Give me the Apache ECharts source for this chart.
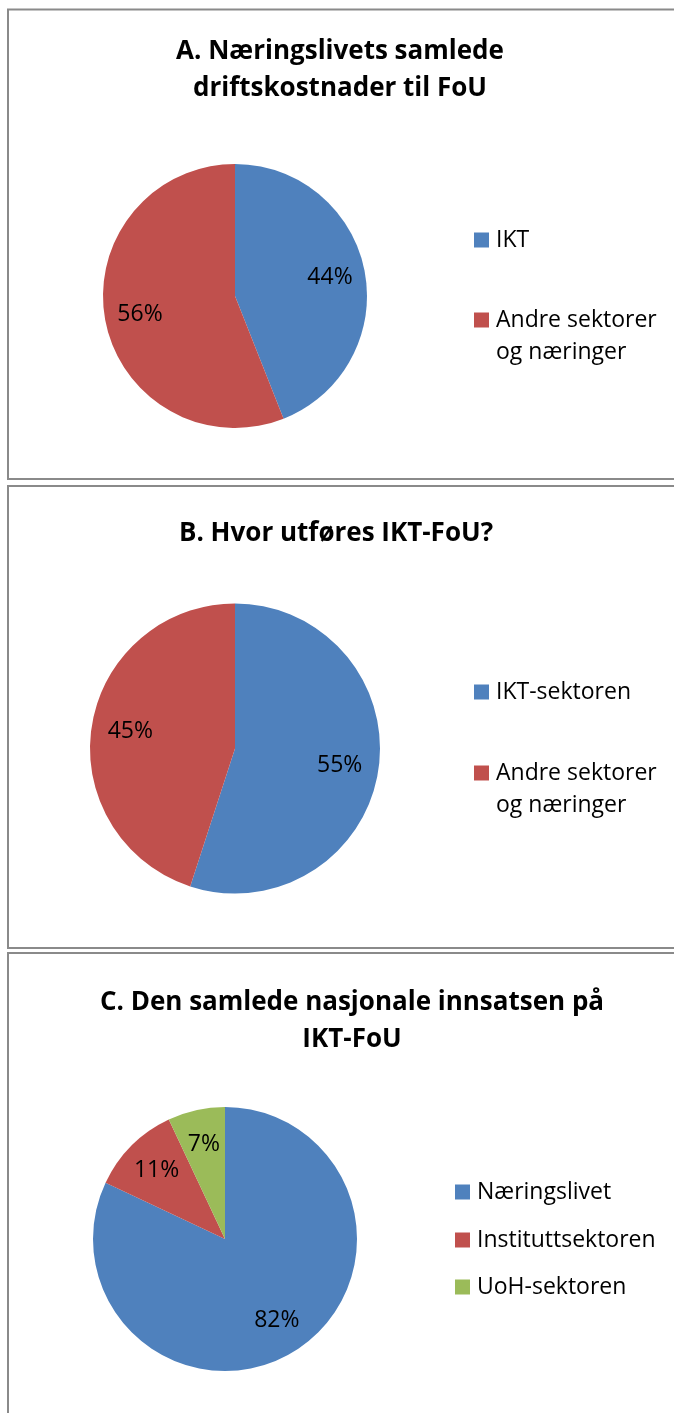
<!DOCTYPE html>
<html>
<head>
<meta charset="utf-8">
<script src="https://cdn.jsdelivr.net/npm/echarts@6/dist/echarts.min.js"></script>
<style>
  html, body { margin: 0; padding: 0; background: #ffffff; }
  #chart { width: 674px; height: 1413px; }
</style>
</head>
<body>
<div id="chart"></div>
<script>
// A. Næringslivets samlede driftskostnader til FoU
const namesA = ['IKT', 'Andre sektorer og næringer']
const valuesA = [44, 56]
// B. Hvor utføres IKT-FoU?
const namesB = ['IKT-sektoren', 'Andre sektorer og næringer']
const valuesB = [55, 45]
// C. Den samlede nasjonale innsatsen på IKT-FoU
const namesC = ['Næringslivet', 'Instituttsektoren', 'UoH-sektoren']
const valuesC = [82, 11, 7]

const titleA = 'A. Næringslivets samlede\ndriftskostnader til FoU'
const titleB = 'B. Hvor utføres IKT-FoU?'
const titleC = 'C. Den samlede nasjonale innsatsen på\nIKT-FoU'

const colors = ['#4F81BD', '#C0504D', '#9BBB59']
const fontFamily = '"Open Sans", sans-serif'
const borderColor = '#8a8a8a'

const chart = echarts.init(document.getElementById('chart'), null, { renderer: 'canvas' })

// en synlig kake + en gjennomsiktig ring som bare bærer prosent-etikettene
function pieSeries(names, values, center, radius) {
  const data = names.map((name, i) => ({
    name: name,
    value: values[i],
    itemStyle: { color: colors[i] }
  }))
  return [{
    type: 'pie',
    center: center,
    radius: radius,
    startAngle: 90,
    clockwise: true,
    silent: true,
    data: data,
    label: { show: false },
    labelLine: { show: false },
    itemStyle: { borderWidth: 0 }
  }, {
    type: 'pie',
    center: center,
    radius: [radius * 0.42, radius],
    startAngle: 90,
    clockwise: true,
    silent: true,
    data: data.map(d => ({ name: d.name, value: d.value })),
    itemStyle: { color: 'rgba(0,0,0,0)', borderWidth: 0 },
    labelLine: { show: false },
    label: {
      show: true,
      position: 'inside',
      formatter: p => p.value + '%',
      color: '#000000',
      fontFamily: fontFamily,
      fontSize: 23
    }
  }]
}

// én legend per oppføring, slik at plasseringen blir lik Excel-oppsettet
function legendItem(name, left, iconCenterY) {
  const twoLines = name.indexOf(' og ') > 0
  return {
    left: left,
    top: twoLines ? iconCenterY - 48 : iconCenterY - 16,
    padding: 0,
    itemWidth: 15,
    itemHeight: 15,
    icon: 'rect',
    selectedMode: false,
    data: [{ name: name, itemStyle: { borderWidth: 0 } }],
    formatter: n => twoLines ? '{t|' + n.replace(' og ', '}\n{t|og ') + '}' : n,
    textStyle: {
      color: '#000000',
      fontFamily: fontFamily,
      fontSize: 23,
      lineHeight: 32,
      padding: twoLines ? [32, 0, 0, 2] : [0, 0, 0, 2],
      rich: {
        t: { color: '#000000', fontFamily: fontFamily, fontSize: 23, lineHeight: 32 }
      }
    }
  }
}

function panel(y, h) {
  return {
    type: 'rect',
    silent: true,
    shape: { x: 8, y: y, width: 720, height: h },
    style: { fill: 'none', stroke: borderColor, lineWidth: 2 }
  }
}

function title(text, x, y) {
  return {
    type: 'text',
    silent: true,
    x: x,
    y: y,
    style: {
      text: text,
      align: 'center',
      verticalAlign: 'middle',
      fill: '#000000',
      fontFamily: fontFamily,
      fontWeight: 'bold',
      fontSize: 26,
      lineHeight: 37
    }
  }
}

chart.setOption({
  animation: false,
  graphic: [
    panel(9.5, 469.5),
    panel(486, 462),
    panel(953, 520),
    title(titleA, 340, 70.5),
    title(titleB, 336, 534),
    title(titleC, 352, 1021)
  ],
  legend: [
    legendItem(namesA[0], 474, 240),
    legendItem(namesA[1], 474, 320),
    legendItem(namesB[0], 474, 692),
    legendItem(namesB[1], 474, 773),
    legendItem(namesC[0], 455, 1192),
    legendItem(namesC[1], 455, 1240),
    legendItem(namesC[2], 455, 1287)
  ],
  series: [].concat(
    pieSeries(namesA, valuesA, [235, 296], 132),
    pieSeries(namesB, valuesB, [235, 748.5], 145),
    pieSeries(namesC, valuesC, [225, 1239], 132)
  )
})
</script>
</body>
</html>
